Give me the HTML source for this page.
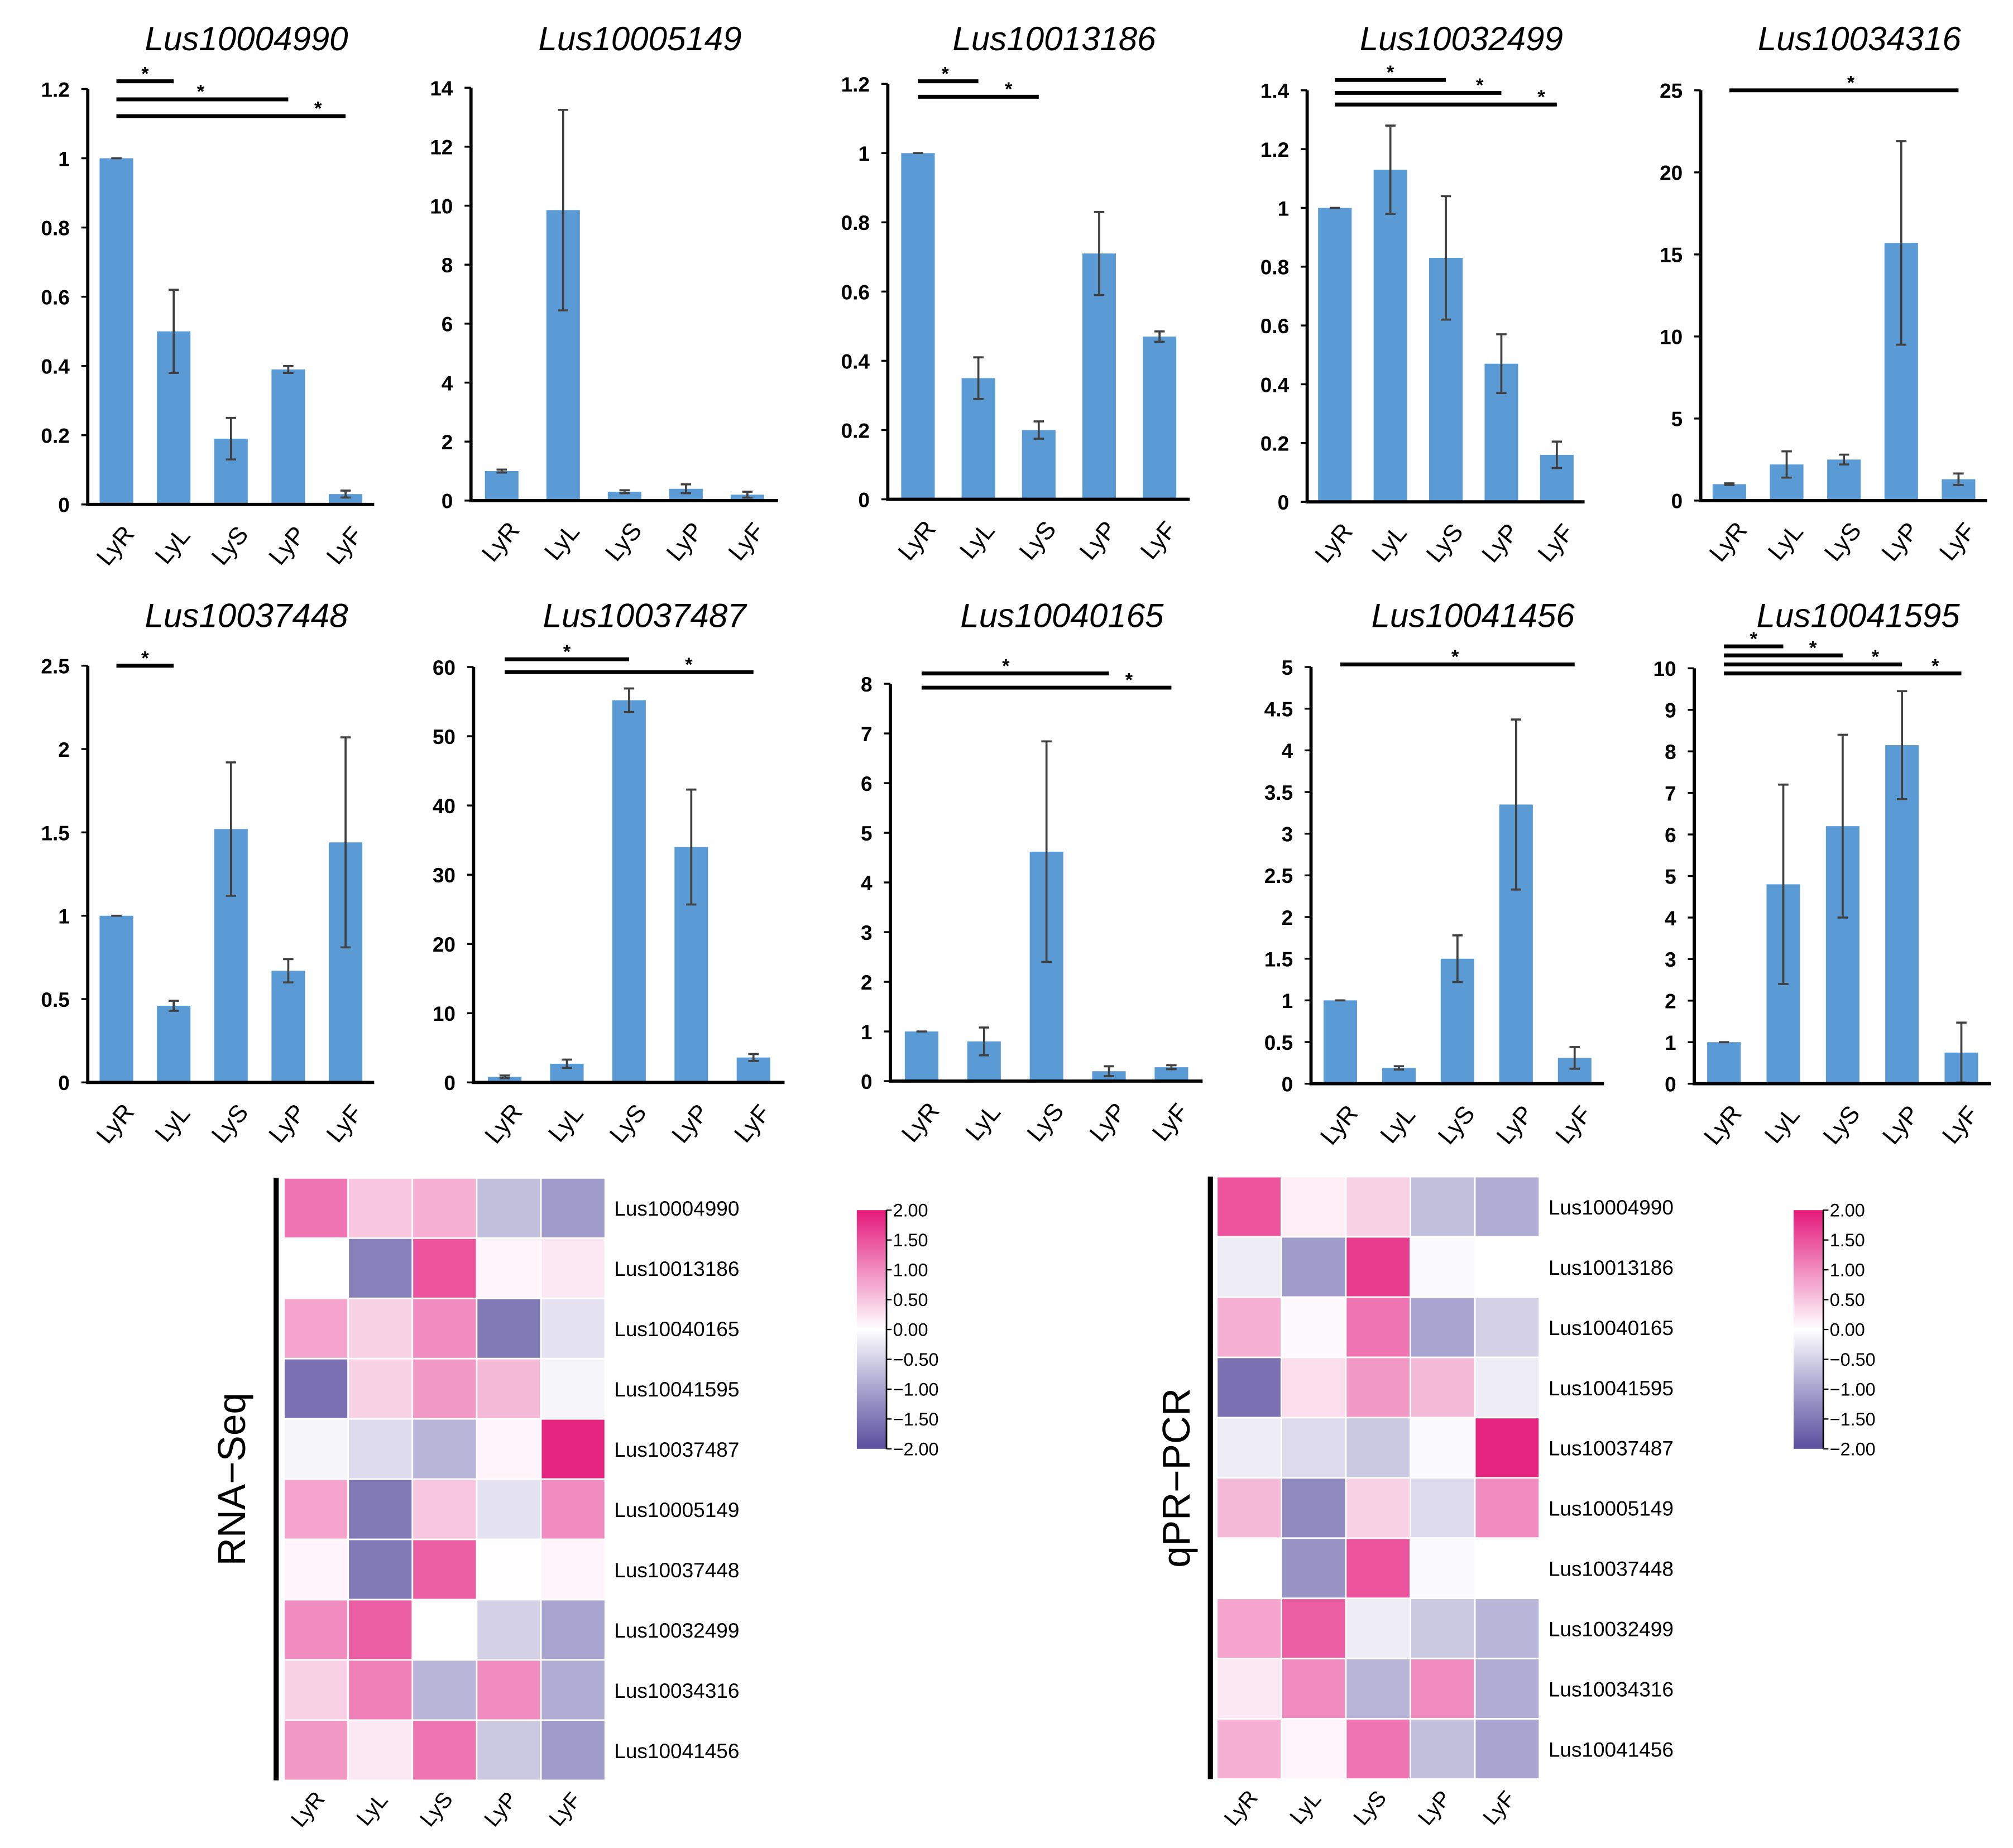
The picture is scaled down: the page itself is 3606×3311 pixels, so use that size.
<!DOCTYPE html>
<html><head><meta charset="utf-8"><style>
html,body{margin:0;padding:0;background:#fff;}
svg{display:block;}
text{font-family:"Liberation Sans",sans-serif;}
</style></head><body>
<svg id="fig" xmlns="http://www.w3.org/2000/svg" width="3606" height="3311" viewBox="0 0 1560 1432.4"></svg>
<script>
const categories = ["LyR","LyL","LyS","LyP","LyF"];
const genes = ["Lus10004990","Lus10005149","Lus10013186","Lus10032499","Lus10034316","Lus10037448","Lus10037487","Lus10040165","Lus10041456","Lus10041595"];
const v0 = [1,0.5,0.19,0.39,0.03], e0 = [0,0.12,0.06,0.01,0.01];
const v1 = [1,9.85,0.3,0.4,0.2], e1 = [0.05,3.4,0.05,0.15,0.1];
const v2 = [1,0.35,0.2,0.71,0.47], e2 = [0,0.06,0.025,0.12,0.015];
const v3 = [1,1.13,0.83,0.47,0.16], e3 = [0,0.15,0.21,0.1,0.045];
const v4 = [1,2.2,2.5,15.7,1.3], e4 = [0.05,0.8,0.3,6.2,0.35];
const v5 = [1,0.46,1.52,0.67,1.44], e5 = [0,0.03,0.4,0.07,0.63];
const v6 = [0.8,2.7,55.2,34,3.6], e6 = [0.2,0.6,1.7,8.3,0.5];
const v7 = [1,0.8,4.62,0.2,0.28], e7 = [0,0.28,2.22,0.1,0.04];
const v8 = [1,0.19,1.5,3.35,0.31], e8 = [0,0.02,0.28,1.02,0.13];
const v9 = [1,4.8,6.2,8.15,0.75], e9 = [0,2.4,2.2,1.3,0.72];
const yMax = [1.2,14,1.2,1.4,25,2.5,60,8,5,10];
const yStep = [0.2,2,0.2,0.2,5,0.5,10,1,0.5,1];
// significance brackets: [fromCategory, toCategory] per panel
const sig = [[[0,1],[0,3],[0,4]],[],[[0,1],[0,2]],[[0,2],[0,3],[0,4]],[[0,4]],[[0,1]],[[0,2],[0,4]],[[0,3],[0,4]],[[0,4]],[[0,1],[0,2],[0,3],[0,4]]];
const heatRows = ["Lus10004990","Lus10013186","Lus10040165","Lus10041595","Lus10037487","Lus10005149","Lus10037448","Lus10032499","Lus10034316","Lus10041456"];
const rnaSeq = [[1.2,0.5,0.7,-0.7,-1.1],[0,-1.4,1.5,0.1,0.2],[0.8,0.4,1.0,-1.5,-0.3],[-1.6,0.4,0.9,0.6,-0.1],[-0.1,-0.4,-0.8,0.1,1.9],[0.8,-1.5,0.5,-0.3,1.0],[0.1,-1.5,1.4,0.02,0.1],[1.0,1.4,0,-0.5,-1.0],[0.4,1.1,-0.8,1.0,-0.9],[0.9,0.2,1.2,-0.6,-1.1]];
const qpcr = [[1.5,0.15,0.4,-0.7,-0.9],[-0.2,-1.1,1.7,-0.05,0],[0.7,0.05,1.2,-1.0,-0.5],[-1.6,0.3,0.9,0.6,-0.2],[-0.2,-0.4,-0.6,-0.05,1.9],[0.6,-1.3,0.4,-0.4,1.0],[0,-1.2,1.5,-0.05,0],[0.8,1.4,-0.2,-0.6,-0.8],[0.2,1.0,-0.8,1.0,-0.9],[0.7,0.1,1.2,-0.7,-1.0]];
const cbTicks = ["2.00","1.50","1.00","0.50","0.00","\u22120.50","\u22121.00","\u22121.50","\u22122.00"];

const vals=[v0,v1,v2,v3,v4,v5,v6,v7,v8,v9], errs=[e0,e1,e2,e3,e4,e5,e6,e7,e8,e9];
const layout=[[68,290,391,69],[365,603,388,68],[688,922,387,65],[1013,1228,389,70],[1318,1540,388,70],
[68,290,839,516],[367,608,839,517],[690,932,838,530],[1016,1243,840,517],[1313,1543,840,518]];
const sigYpos=[[63,77,90],[],[63,75],[62,72,81],[70],[516],[511,521],[522,533],[515],[501,508,515,522]];
const starFrac=[[0.5,0.49,0.88],[],[0.45,0.75],[0.5,0.87,0.93],[0.53],[0.5],[0.5,0.74],[0.45,0.83],[0.49],[0.5,0.75,0.85,0.89]];
const titleY=[30,477];
const NS="http://www.w3.org/2000/svg";
const svg=document.getElementById('fig');
function mk(tag,attrs,parent,txt){const e=document.createElementNS(NS,tag);for(const k in attrs)e.setAttribute(k,attrs[k]);if(txt!==undefined)e.textContent=txt;(parent||svg).appendChild(e);return e;}
function fmt(v,step){return step<1?(+v.toFixed(1)).toString():String(Math.round(v));}

for(let p=0;p<10;p++){
  const [ax,rx,y0,yt]=layout[p];
  const g=mk('g',{});
  
  
  const ys=v=>y0-(v/yMax[p])*(y0-yt);
  const xc=i=>ax+(rx-ax)*(i+0.5)/5;
  const t=mk('text',{x:(ax+rx)/2+12,y:titleY[p<5?0:1]+9,'text-anchor':'middle','font-size':26,'font-style':'italic'},g,genes[p]);
  
  
  for(let v=0;v<=yMax[p]+1e-9;v+=yStep[p]){
    const y=ys(v);
    mk('line',{x1:ax-5,x2:ax,y1:y,y2:y,stroke:'#000','stroke-width':1.5},g);
    const tl=mk('text',{x:ax-14,y:y+6,'text-anchor':'end','font-size':16,'font-weight':'bold'},g,fmt(v,yStep[p]));
    
    
  }
  for(let i=0;i<5;i++){
    const x=xc(i),v=vals[p][i],e=errs[p][i];
    const b=mk('rect',{x:x-13,y:ys(v),width:26,height:y0-ys(v),fill:'#5b9bd5'},g);
    
    
    const eb=mk('path',{d:`M${x},${ys(v+e)}V${ys(v-e)}M${x-4},${ys(v+e)}H${x+4}M${x-4},${ys(v-e)}H${x+4}`,stroke:'#404040','stroke-width':1.6,fill:'none'},g);
    
    
    const cl=mk('text',{transform:`translate(${x+4},${y0+36}) rotate(-50)`,'text-anchor':'middle','font-size':19},g,categories[i]);
    
    
  }
  const axl=mk('path',{d:`M${ax},${yt}V${y0}H${rx}`,stroke:'#000','stroke-width':2.5,fill:'none'},g);
  
  
  sig[p].forEach((s,k)=>{
    const y=sigYpos[p][k];
    const x1=xc(s[0]),x2=xc(s[1]);
    const ln=mk('line',{x1:x1,x2:x2,y1:y,y2:y,stroke:'#000','stroke-width':3},g);
    
    
    const st=mk('text',{x:x1+(x2-x1)*starFrac[p][k],y:y-1,'text-anchor':'middle','font-size':15,'font-weight':'bold'},g,'*');
    
    
  });
}

const stops=[[-2,[91,78,158]],[-1,[168,163,207]],[0,[255,255,255]],[1,[240,140,191]],[2,[229,25,122]]];
function color(v){v=Math.max(-2,Math.min(2,v));for(let i=0;i<4;i++){const [a,ca]=stops[i],[b,cb]=stops[i+1];if(v<=b){const t=(v-a)/(b-a);return `rgb(${ca.map((c,j)=>Math.round(c+(cb[j]-c)*t)).join(',')})`;}}return 'rgb(229,25,122)';}
const defs=mk('defs',{});
const grad=mk('linearGradient',{id:'cbg',x1:0,y1:1,x2:0,y2:0},defs);
stops.forEach(s=>mk('stop',{offset:(s[0]+2)/4,'stop-color':color(s[0])},grad));

function heat(data,lineX,x0,x1,y0,y1,title,titleX,cbX,name){
  const g=mk('g',{});
  
  
  const cw=(x1-x0)/5,ch=(y1-y0)/10;
  data.forEach((row,r)=>row.forEach((v,c)=>{
    const cell=mk('rect',{x:x0+c*cw,y:y0+r*ch,width:cw,height:ch,fill:color(v),stroke:'#fff','stroke-width':1.2},g);
    
    
  }));
  heatRows.forEach((n,r)=>{
    const t=mk('text',{x:x1+7,y:y0+r*ch+ch/2+6,'font-size':16},g,n);
    
    
  });
  categories.forEach((n,c)=>{
    const t=mk('text',{transform:`translate(${x0+c*cw+cw/2-2},${y1+26}) rotate(-50)`,'text-anchor':'middle','font-size':17},g,n);
    
    
  });
  const l=mk('line',{x1:lineX,x2:lineX,y1:y0,y2:y1,stroke:'#000','stroke-width':4},g);
  
  
  const tt=mk('text',{transform:`translate(${titleX},${(y0+y1)/2}) rotate(-90)`,'text-anchor':'middle','font-size':30},g,title);
  
  
  const cb=mk('rect',{x:cbX,y:938,width:23,height:185,fill:'url(#cbg)'},g);
  
  
  mk('line',{x1:cbX+23,x2:cbX+23,y1:938,y2:1123,stroke:'#000','stroke-width':1.2},g);
  cbTicks.forEach((s,i)=>{
    const y=938+i*185/8;
    mk('line',{x1:cbX+23,x2:cbX+27,y1:y,y2:y,stroke:'#000','stroke-width':1},g);
    const t=mk('text',{x:cbX+28,y:y+5,'font-size':14},g,s);
    
    
  });
}
heat(rnaSeq,214,220,469,913,1380,'RNA\u2212Seq',190,664,'heatmap-rna-seq');
heat(qpcr,938,943,1193,912,1379,'qPR\u2212PCR',922,1390,'heatmap-qpcr');
</script>
</body></html>
